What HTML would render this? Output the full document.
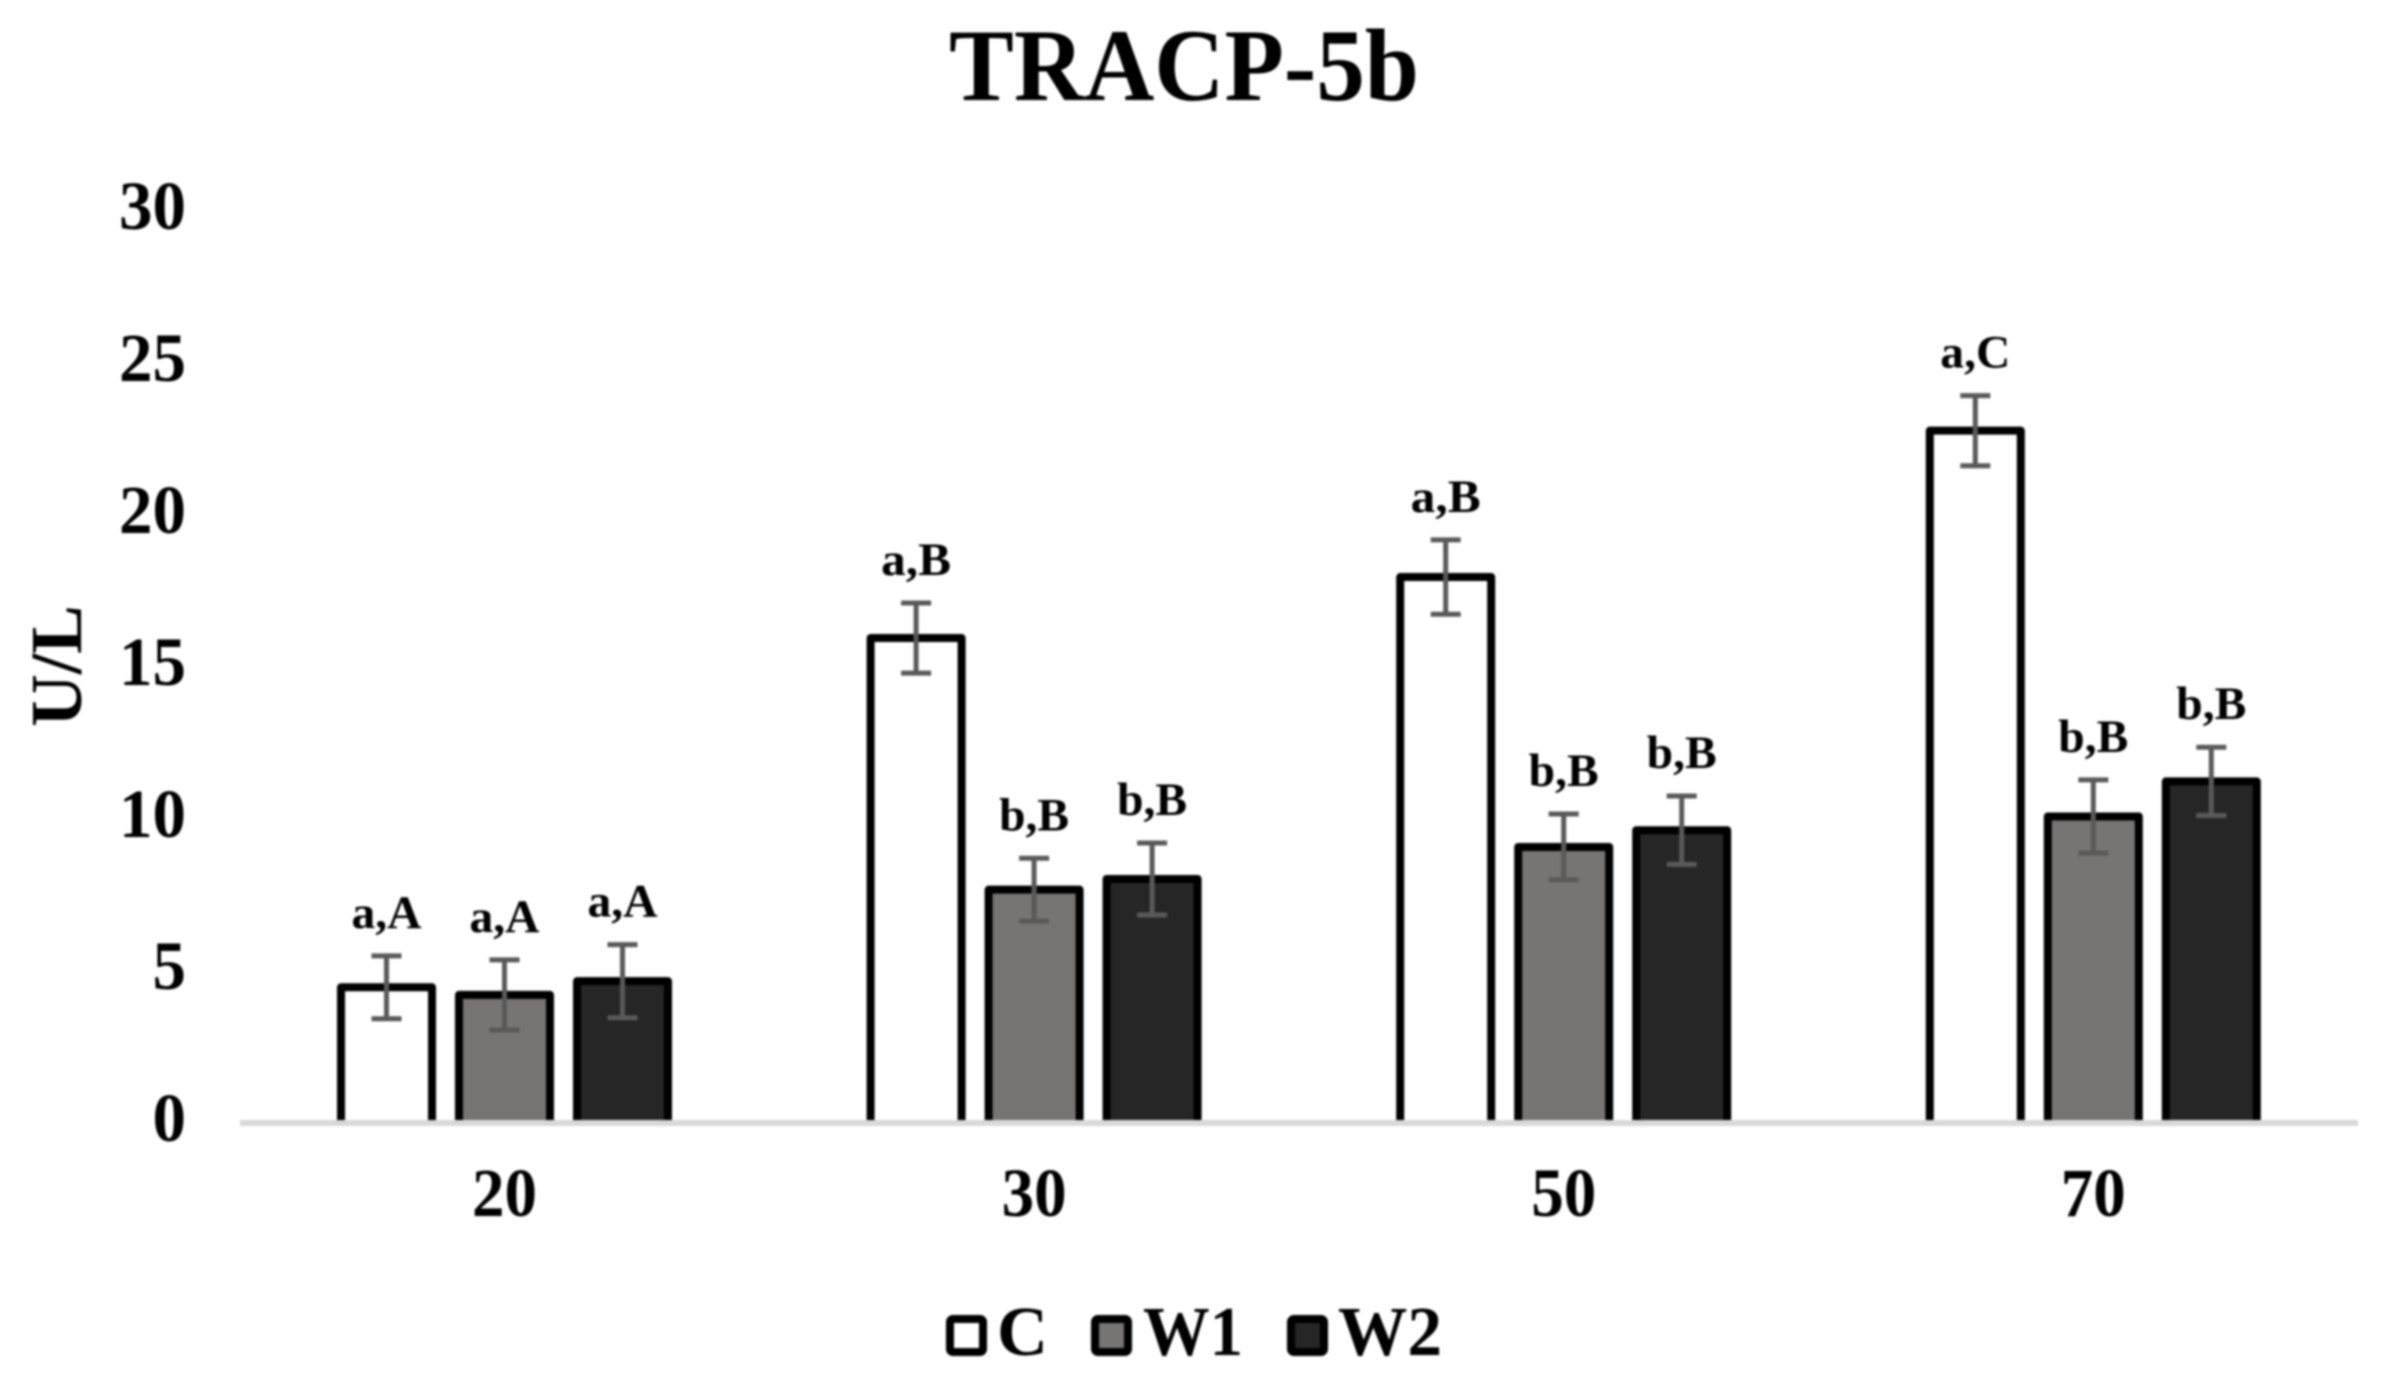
<!DOCTYPE html>
<html>
<head>
<meta charset="utf-8">
<title>TRACP-5b</title>
<style>
html,body{margin:0;padding:0;background:#fff;width:2383px;height:1384px;overflow:hidden}
svg{display:block;filter:blur(1px)}
text{font-family:"Liberation Serif",serif;font-weight:bold;fill:#000}
</style>
</head>
<body>
<svg id="chart" xmlns="http://www.w3.org/2000/svg" width="2383" height="1384" viewBox="0 0 2383 1384">
  <rect x="0" y="0" width="2383" height="1384" fill="#fff"/>
  <text x="1184" y="100" text-anchor="middle" font-size="103" textLength="470" lengthAdjust="spacingAndGlyphs">TRACP-5b</text>
  <text transform="translate(81,666) rotate(-90)" text-anchor="middle" font-size="73">U/L</text>
  <g id="y-ticks"></g>
  <g id="bars"></g>
  <line x1="240" y1="1123" x2="2358" y2="1123" stroke="#d9d9d9" stroke-width="6"/>
  <g id="x-ticks"></g>
  <g>
    <g>
      <rect x="950" y="1319" width="33" height="33" rx="3" fill="#fff" stroke="#000" stroke-width="8"/>
      <text x="997" y="1355" font-size="70" textLength="51" lengthAdjust="spacingAndGlyphs">C</text>
    </g>
    <g>
      <rect x="1095" y="1319" width="33" height="33" rx="3" fill="#787473" stroke="#000" stroke-width="8"/>
      <text x="1143" y="1355" font-size="70" textLength="100" lengthAdjust="spacingAndGlyphs">W1</text>
    </g>
    <g>
      <rect x="1291" y="1319" width="33" height="33" rx="3" fill="#262626" stroke="#000" stroke-width="8"/>
      <text x="1338" y="1355" font-size="70" textLength="104" lengthAdjust="spacingAndGlyphs">W2</text>
    </g>
  </g>
</svg>
<script>
const categories = ['20', '30', '50', '70'];
const yTickLabels = [0, 5, 10, 15, 20, 25, 30];
const seriesNames = ['C', 'W1', 'W2'];
const valuesC = [4.45, 15.9, 17.9, 22.7];
const valuesW1 = [4.2, 7.65, 9.05, 10.05];
const valuesW2 = [4.65, 8.0, 9.6, 11.2];
const errorsC = [1.03, 1.15, 1.22, 1.15];
const errorsW1 = [1.15, 1.03, 1.08, 1.2];
const errorsW2 = [1.2, 1.18, 1.12, 1.12];
const lettersC = ['a,A', 'a,B', 'a,B', 'a,C'];
const lettersW1 = ['a,A', 'b,B', 'b,B', 'b,B'];
const lettersW2 = ['a,A', 'b,B', 'b,B', 'b,B'];

const NS = 'http://www.w3.org/2000/svg';
const baseY = 1123, barFloor = 1120, unit = 30.5;
const tickBaseline = 1141, tickUnit = 30.4;
const firstCenter = 504.5, groupStep = 529.6, barStep = 118, barW = 91, strokeW = 8;
const fills = ['#ffffff', '#787473', '#262626'];
const allValues = [valuesC, valuesW1, valuesW2];
const allErrors = [errorsC, errorsW1, errorsW2];
const allLetters = [lettersC, lettersW1, lettersW2];

function yScale(v) { return baseY - v * unit; }
function tickY(v) { return tickBaseline - v * tickUnit; }
function xCenter(i) { return firstCenter + i * groupStep; }
function barX(i, s) { return xCenter(i) + (s - 1) * barStep; }
function make(tag, attrs, parent) {
  const el = document.createElementNS(NS, tag);
  for (const k in attrs) el.setAttribute(k, attrs[k]);
  parent.appendChild(el);
  return el;
}

const yGroup = document.getElementById('y-ticks');
yTickLabels.forEach(function (t) {
  const len = String(t).length * 33.5;
  const el = make('text', { x: 186, y: tickY(t), 'text-anchor': 'end', 'font-size': 69, textLength: len, lengthAdjust: 'spacingAndGlyphs' }, yGroup);
  
  
  el.textContent = t;
});

const xGroup = document.getElementById('x-ticks');
categories.forEach(function (c, i) {
  const el = make('text', { x: xCenter(i), y: 1216, 'text-anchor': 'middle', 'font-size': 69, textLength: 65, lengthAdjust: 'spacingAndGlyphs' }, xGroup);
  
  
  el.textContent = c;
});

const barGroup = document.getElementById('bars');
seriesNames.forEach(function (name, s) {
  categories.forEach(function (c, i) {
    const v = allValues[s][i], e = allErrors[s][i];
    const cx = barX(i, s), left = cx - barW / 2, right = cx + barW / 2, top = yScale(v);
    const bar = make('path', {
      d: 'M' + left + ' ' + barFloor + ' V' + top + ' H' + right + ' V' + barFloor,
      fill: fills[s], stroke: '#000', 'stroke-width': strokeW, 'stroke-linejoin': 'round'
    }, barGroup);
    
    
    const hi = yScale(v + e), lo = yScale(v - e);
    const err = make('path', {
      d: 'M' + cx + ' ' + hi + ' V' + lo + ' M' + (cx - 15) + ' ' + hi + ' H' + (cx + 15) + ' M' + (cx - 15) + ' ' + lo + ' H' + (cx + 15),
      fill: 'none', stroke: '#595959', 'stroke-width': 5
    }, barGroup);
    
    
    const lab = make('text', {
      x: cx, y: hi - 28, 'text-anchor': 'middle', 'font-size': 47,
      textLength: 70, lengthAdjust: 'spacingAndGlyphs'
    }, barGroup);
    
    
    lab.textContent = allLetters[s][i];
  });
});
</script>
</body>
</html>
